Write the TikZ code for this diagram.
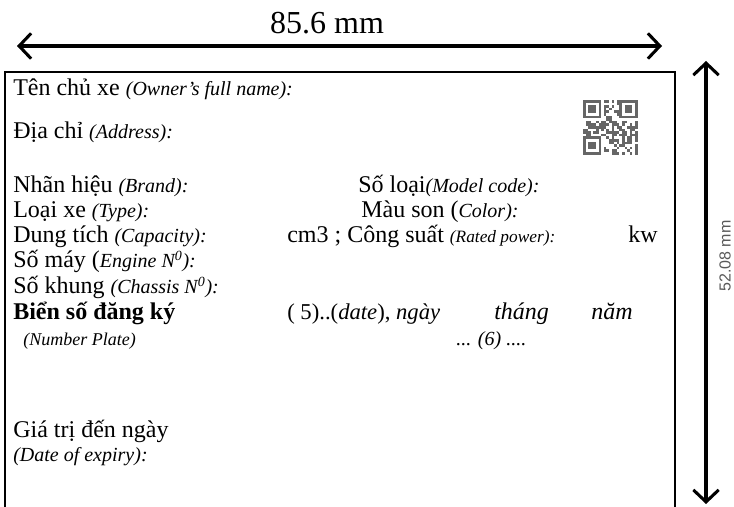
\documentclass[tikz,border=0pt]{standalone}
\usepackage{fontspec}
\setmainfont{Liberation Serif}
\newfontfamily\dimfont{Liberation Sans}
\usetikzlibrary{arrows.meta}
\tikzset{
	field/.style={anchor=base west,inner sep=0pt,font=\fontsize{18}{21}\selectfont},
	dimarrow/.style={line width=2.3pt,{Straight Barb[length=9pt,width=19pt]}-{Straight Barb[length=9pt,width=19pt]}},
	card/.style={line width=1.5pt},
	qr/.style={fill=black!60}
}
\newcommand{\eng}[1]{{\fontsize{15}{18}\selectfont\itshape #1}}

\begin{document}
\begin{tikzpicture}[x=0.75pt,y=-0.75pt]
	\clip (0,0) rectangle (734,506);
	\fill[white] (0,0) rectangle (734,506);

	% dimension arrows
	\node (wtxt) [font=\fontsize{24}{28}\selectfont] at (327,23) {85.6 mm};
	\coordinate (wl) at (17,46);
	\coordinate (wr) at (662,46);
	\draw[dimarrow] (wl) -- (wr);
	\coordinate (ht) at (706,61);
	\coordinate (hb) at (706,504);
	\draw[dimarrow] (ht) -- (hb);
	\node (htxt) [rotate=90,text=black!65,font=\dimfont\fontsize{12}{14}\selectfont] at (725,256) {52.08 mm};

	% card
	\draw[card] (5,520) |- (675,72) -- (675,520);

	% qr code
	\pgfmathsetseed{42}
	\foreach \i in {0,...,20}{
		\foreach \j in {0,...,20}{
			\pgfmathtruncatemacro{\bit}{rnd<0.5?1:0}
			\ifnum\bit=1 \fill[qr] ({583+\i*2.6},{100+\j*2.6}) rectangle +(2.6,2.6); \fi
		}
	}
	\foreach \fx/\fy in {583/100,619.4/100,583/136.4}{
		\fill[white] (\fx,\fy) rectangle +(20.8,20.8);
		\fill[qr] (\fx,\fy) rectangle +(18.2,18.2);
		\fill[white] ({\fx+2.6},{\fy+2.6}) rectangle +(13,13);
		\fill[qr] ({\fx+5.2},{\fy+5.2}) rectangle +(7.8,7.8);
	}

	% fields
	\node (owner) [field] at (13,96) {Tên chủ xe \eng{(Owner’s full name):}};
	\node (addr) [field] at (13,138) {Địa chỉ \eng{(Address):}};
	\node (brand) [field] at (13,192) {Nhãn hiệu \eng{(Brand):}};
	\node (model) [field] at (358,192) {Số loại\eng{(Model code):}};
	\node (type) [field] at (13,217) {Loại xe \eng{(Type):}};
	\node (color) [field] at (361,217) {Màu son (\eng{Color):}};
	\node (cap) [field] at (13,242) {Dung tích \eng{(Capacity):}};
	\node (power) [field] at (287,242) {cm3 ; Công suất {\fontsize{13}{15}\selectfont\itshape (Rated power):}};
	\node (kw) [field] at (628,242) {kw};
	\node (engine) [field] at (13,267) {Số máy (\eng{Engine N\textsuperscript{0}):}};
	\node (chassis) [field] at (13,293) {Số khung \eng{(Chassis N\textsuperscript{0}):}};
	\node (plate) [field,font=\fontsize{18}{21}\selectfont\bfseries] at (13,319) {Biển số đăng ký};
	\node (date) [field,font=\fontsize{17}{20}\selectfont] at (287,319) {( 5)..(\textit{date}), \textit{ngày}};
	\node (month) [field] at (494,319) {\textit{tháng}};
	\node (year) [field] at (591,319) {\textit{năm}};
	\node (platen) [field] at (23,345) {{\fontsize{13.5}{16}\selectfont\itshape (Number Plate)}};
	\node (six) [field] at (456,345) {\eng{... (6) ....}};
	\node (valid) [field] at (13,437) {Giá trị đến ngày};
	\node (expiry) [field] at (13,461) {\eng{(Date of expiry):}};
\end{tikzpicture}
\end{document}
